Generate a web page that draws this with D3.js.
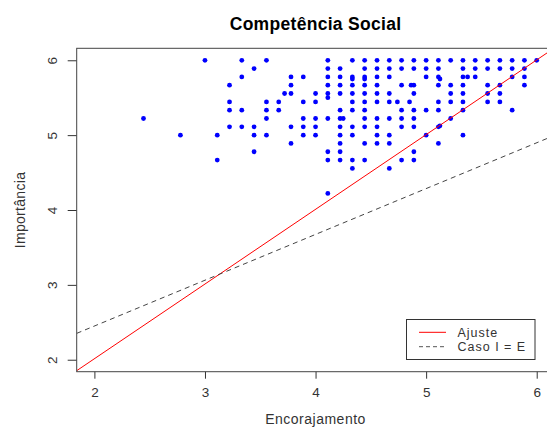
<!DOCTYPE html>
<html>
<head>
<meta charset="utf-8">
<script src="https://cdn.jsdelivr.net/npm/d3@7"></script>
<style>
  body { margin: 0; background: #fff; }
  svg { display: block; font-family: "Liberation Sans", Arial, sans-serif; }
</style>
</head>
<body>
<svg id="chart"></svg>
<script>
const titulo = 'Competência Social';
const eixoX = 'Encorajamento';
const eixoY = 'Importância';
const xTicks = [2, 3, 4, 5, 6];
const yTicks = [2, 3, 4, 5, 6];
const legenda = ['Ajuste', 'Caso I = E'];

// linhas: [intercepto, inclinação]
const ajusteCoef = [0.017, 0.998];
const casoCoef = [1.226, 0.612];

// pontos [encorajamento, importância]
const pontos = [
  [3.000,6.000],[3.333,6.000],[3.556,6.000],[4.111,6.000],[4.333,6.000],[4.444,6.000],[4.556,6.000],[4.667,6.000],
  [4.778,6.000],[4.889,6.000],[5.000,6.000],[5.111,6.000],[5.222,6.000],[5.333,6.000],[5.444,6.000],[5.556,6.000],
  [5.667,6.000],[5.778,6.000],[5.889,6.000],[6.000,6.000],
  [3.444,5.889],[4.111,5.889],[4.222,5.889],[4.444,5.889],[4.556,5.889],[4.667,5.889],[4.778,5.889],[4.889,5.889],
  [5.000,5.889],[5.111,5.889],[5.333,5.889],[5.444,5.889],[5.556,5.889],[5.667,5.889],[5.778,5.889],[5.889,5.889],
  [3.333,5.778],[3.778,5.778],[3.889,5.778],[4.111,5.778],[4.222,5.778],[4.333,5.778],[4.444,5.778],[4.556,5.778],
  [4.667,5.778],[5.000,5.778],[5.111,5.778],[5.333,5.778],[5.444,5.778],[5.778,5.778],[5.889,5.778],
  [4.333,5.750],[4.444,5.750],[5.125,5.750],[5.375,5.778],
  [3.222,5.667],[3.778,5.667],[4.111,5.667],[4.222,5.667],[4.333,5.667],[4.444,5.667],[4.556,5.667],[4.778,5.667],
  [4.889,5.667],[5.111,5.667],[5.222,5.667],[5.333,5.667],[5.556,5.667],[5.667,5.667],[5.889,5.667],[4.864,5.667],
  [3.778,5.556],[4.000,5.556],[4.111,5.556],[4.222,5.556],[4.333,5.556],[4.444,5.556],[4.556,5.556],[4.667,5.556],
  [4.889,5.556],[5.222,5.556],[5.333,5.556],[5.556,5.556],[5.667,5.556],[3.720,5.556],[4.111,5.500],
  [3.222,5.444],[3.556,5.444],[3.667,5.444],[3.889,5.444],[4.000,5.444],[4.333,5.444],[4.444,5.444],[4.556,5.444],
  [4.667,5.444],[5.111,5.444],[5.222,5.444],[5.333,5.444],[5.556,5.444],[5.667,5.444],[4.740,5.444],[4.850,5.444],
  [3.222,5.333],[3.333,5.333],[3.556,5.333],[3.667,5.333],[4.222,5.333],[4.333,5.333],[4.444,5.333],[4.778,5.333],
  [4.889,5.333],[5.000,5.333],[5.111,5.333],[5.333,5.333],[5.778,5.333],
  [2.444,5.222],[3.556,5.222],[3.889,5.222],[4.000,5.222],[4.111,5.222],[4.222,5.222],[4.444,5.222],[4.556,5.222],
  [4.667,5.222],[4.778,5.222],[4.889,5.222],[5.222,5.222],[4.250,5.222],
  [3.222,5.111],[3.333,5.111],[3.444,5.111],[3.778,5.111],[3.889,5.111],[4.000,5.111],[4.222,5.111],[4.333,5.111],
  [4.444,5.111],[4.556,5.111],[4.778,5.111],[4.889,5.111],[5.111,5.111],[5.125,5.125],
  [2.778,5.000],[3.111,5.000],[3.444,5.000],[3.556,5.000],[3.889,5.000],[4.000,5.000],[4.222,5.000],[4.333,5.000],
  [4.556,5.000],[4.667,5.000],[5.000,5.000],[5.333,5.000],
  [3.778,4.889],[4.222,4.889],[4.444,4.889],[4.556,4.889],[4.667,4.889],[5.111,4.889],
  [3.444,4.778],[4.111,4.778],[4.222,4.778],[4.889,4.778],
  [3.111,4.667],[4.111,4.667],[4.222,4.667],[4.333,4.667],[4.444,4.667],[4.778,4.667],[4.889,4.667],
  [4.333,4.556],[4.667,4.556],
  [4.111,4.222]
];

const W = 547, H = 427;
const svg = d3.select('#chart').attr('width', W).attr('height', H);

const plot = { left: 76.7, right: 554.4, top: 48.3, bottom: 371.7 };

const x = d3.scaleLinear().domain([1.84, 6.16]).range([plot.left, plot.right]);
const y = d3.scaleLinear().domain([1.84, 6.16]).range([plot.bottom, plot.top]);

svg.append('defs').append('clipPath').attr('id', 'clip')
  .append('rect')
  .attr('x', plot.left).attr('y', plot.top)
  .attr('width', plot.right - plot.left).attr('height', plot.bottom - plot.top);

// titulo
svg.append('text')
  .attr('x', (plot.left + plot.right) / 2)
  .attr('y', 30)
  .attr('text-anchor', 'middle')
  .attr('font-size', 17.5)
  .attr('font-weight', 'bold')
  .attr('letter-spacing', 0.3)
  .attr('fill', '#000')
  .text(titulo);

// eixos
const gx = svg.append('g')
  .attr('transform', `translate(0,${plot.bottom})`)
  .call(d3.axisBottom(x).tickValues(xTicks).tickFormat(d3.format('d'))
    .tickSize(7).tickPadding(9).tickSizeOuter(0));
const gy = svg.append('g')
  .attr('transform', `translate(${plot.left},0)`)
  .call(d3.axisLeft(y).tickValues(yTicks).tickFormat(d3.format('d'))
    .tickSize(9).tickSizeOuter(0));

[gx, gy].forEach(g => {
  g.select('.domain').remove();
  g.selectAll('line').attr('stroke', '#333');
  g.selectAll('text').attr('font-size', 13.5).attr('fill', '#333')
    .attr('font-family', '"Liberation Sans", Arial, sans-serif');
});
gx.selectAll('text').attr('dy', '0.71em');
gy.selectAll('text')
  .attr('x', null).attr('y', null).attr('dy', null)
  .attr('text-anchor', 'middle')
  .attr('transform', 'translate(-20,0) rotate(-90)');

svg.append('text')
  .attr('x', (plot.left + plot.right) / 2)
  .attr('y', 424)
  .attr('text-anchor', 'middle')
  .attr('font-size', 14)
  .attr('letter-spacing', 0.5)
  .attr('fill', '#333')
  .text(eixoX);

svg.append('text')
  .attr('transform', `translate(25,${(plot.top + plot.bottom) / 2}) rotate(-90)`)
  .attr('text-anchor', 'middle')
  .attr('font-size', 14)
  .attr('letter-spacing', 0.3)
  .attr('fill', '#333')
  .text(eixoY);

// pontos
svg.append('g').attr('clip-path', 'url(#clip)')
  .selectAll('circle')
  .data(pontos)
  .join('circle')
  .attr('cx', d => x(d[0]))
  .attr('cy', d => y(d[1]))
  .attr('r', 2.4)
  .attr('fill', '#0000ff');

// retas
const linhas = svg.append('g').attr('clip-path', 'url(#clip)');
const dom = x.domain();
linhas.append('line')
  .attr('x1', x(dom[0])).attr('y1', y(ajusteCoef[0] + ajusteCoef[1] * dom[0]))
  .attr('x2', x(dom[1])).attr('y2', y(ajusteCoef[0] + ajusteCoef[1] * dom[1]))
  .attr('stroke', '#ff0000').attr('stroke-width', 1);
linhas.append('line')
  .attr('x1', x(dom[0])).attr('y1', y(casoCoef[0] + casoCoef[1] * dom[0]))
  .attr('x2', x(dom[1])).attr('y2', y(casoCoef[0] + casoCoef[1] * dom[1]))
  .attr('stroke', '#444').attr('stroke-width', 1).attr('stroke-dasharray', '5,4');

// caixa do grafico
svg.append('rect')
  .attr('x', plot.left).attr('y', plot.top)
  .attr('width', plot.right - plot.left).attr('height', plot.bottom - plot.top)
  .attr('fill', 'none').attr('stroke', '#444').attr('stroke-width', 1);

// legenda
const leg = svg.append('g');
leg.append('rect')
  .attr('x', 406.5).attr('y', 319.5).attr('width', 128.5).attr('height', 40)
  .attr('fill', '#fff').attr('stroke', '#333');
legenda.forEach((nome, i) => {
  const ly = 332.3 + i * 14.4;
  leg.append('line')
    .attr('x1', 419).attr('x2', 446).attr('y1', ly).attr('y2', ly)
    .attr('stroke', i === 0 ? '#ff0000' : '#555')
    .attr('stroke-dasharray', i === 0 ? null : '4,3');
  leg.append('text')
    .attr('x', 457.5).attr('y', ly + 4.6)
    .attr('font-size', 12.5)
    .attr('letter-spacing', 1)
    .attr('fill', '#333')
    .text(nome);
});
</script>
</body>
</html>
